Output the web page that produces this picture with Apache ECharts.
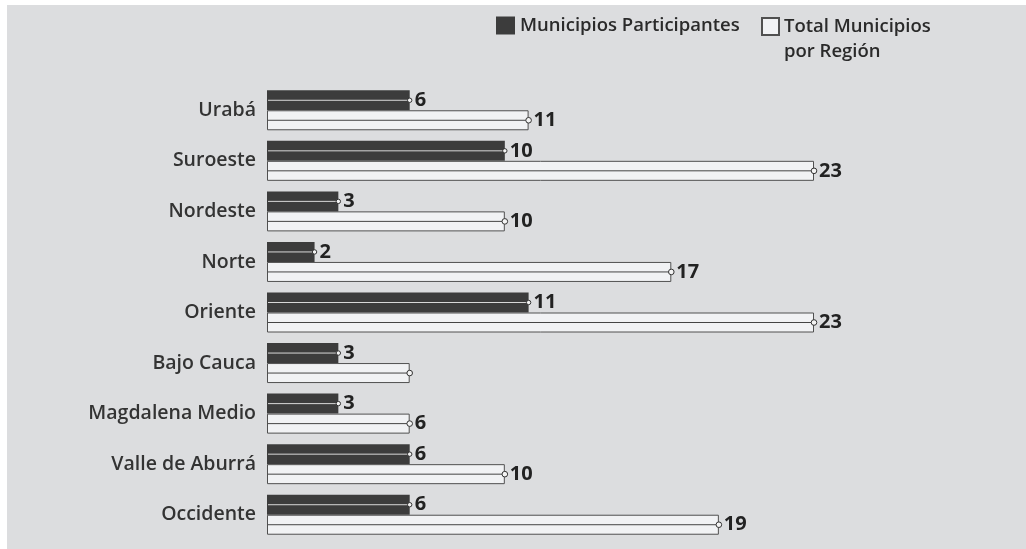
<!DOCTYPE html>
<html><head><meta charset="utf-8">
<script src="https://cdn.jsdelivr.net/npm/echarts@6/dist/echarts.min.js"></script>
<style>html,body{margin:0;padding:0;background:#fff}#c{width:1026px;height:549px}</style>
</head><body><div id="c"></div>
<script>
var categories = ['Urabá','Suroeste','Nordeste','Norte','Oriente','Bajo Cauca','Magdalena Medio','Valle de Aburrá','Occidente'];
var participantes = [6,10,3,2,11,3,3,6,6];
var totales = [11,23,10,17,23,6,6,10,19];
var totalLabelHidden = ['Bajo Cauca'];
var seriesNames = ['Municipios Participantes','Total Municipios\npor Región'];

var FONT = '"Open Sans"';
var BW = 20;
function overlay(values, offset, lineColor, r) {
  return {
    type: 'custom', silent: true, z: 5,
    data: values.map(function(v,i){return [v,i];}),
    encode: {x:0, y:1},
    renderItem: function(params, api){
      var p = api.coord([api.value(0), api.value(1)]);
      var p0 = api.coord([0, api.value(1)]);
      var y = p[1] + offset;
      return {type:'group', children:[
        {type:'line', shape:{x1:p0[0]+1,y1:y,x2:p[0],y2:y}, style:{stroke:lineColor,lineWidth:1}},
        {type:'circle', shape:{cx:p[0],cy:y,r:r}, style:{fill:'#f4f4f4',stroke:'#333',lineWidth:1}}
      ]};
    }
  };
}
var chart = echarts.init(document.getElementById('c'));
chart.setOption({
  animation:false,
  graphic:[{type:'rect', z:-10, shape:{x:7,y:5,width:1019,height:544}, style:{fill:'#dcdddf'}}],
  legend:[{
    data:[seriesNames[0]], left:496, top:16, padding:0, itemWidth:19, itemHeight:18, icon:'rect',
    textStyle:{fontFamily:FONT,fontSize:18.5,fontWeight:600,color:'#2a2a2a'}
  },{
    data:[seriesNames[1]], left:761, top:-11, padding:0, itemWidth:17, itemHeight:17, icon:'rect',
    formatter:function(n){return '\n'+n;},
    textStyle:{fontFamily:FONT,fontSize:18.5,fontWeight:600,color:'#2a2a2a',lineHeight:25}
  }],
  grid:{left:267,right:212,top:85,bottom:9,containLabel:false},
  xAxis:{type:'value',min:0,max:23,show:false},
  yAxis:{type:'category',data:categories,inverse:true,
    axisLine:{show:false},axisTick:{show:false},
    axisLabel:{fontFamily:FONT,fontSize:19.5,fontWeight:600,color:'#333',margin:11}},
  series:[
    {name:seriesNames[0],type:'bar',data:participantes,barWidth:BW,barGap:'0%',
     itemStyle:{color:'#3c3c3c'},
     label:{show:true,position:'right',distance:5,fontFamily:FONT,fontSize:20,fontWeight:'bold',color:'#222'}},
    {name:seriesNames[1],type:'bar',barWidth:BW,barGap:'0%',
     data:totales.map(function(v,i){
       return totalLabelHidden.indexOf(categories[i])>=0 ? {value:v,label:{show:false}} : v;}),
     itemStyle:{color:'#f1f2f4',borderColor:'#505050',borderWidth:1},
     label:{show:true,position:'right',distance:5,fontFamily:FONT,fontSize:20,fontWeight:'bold',color:'#222'}},
    overlay(participantes, -BW/2, '#d8d8d8', 2.2),
    overlay(totales, BW/2, '#444', 2.8)
  ]
});
</script></body></html>
